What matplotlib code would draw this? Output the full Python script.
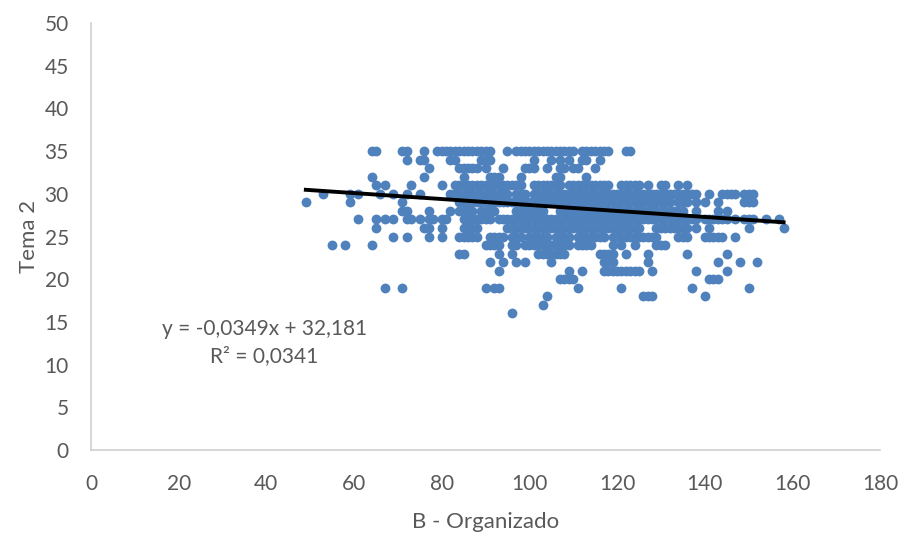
import matplotlib.pyplot as plt
import numpy as np

# Tema 2 score (rows) and the B - Organizado values seen at each score
tema2_rows = {
    35: [64, 65, 71, 72, 76, 79, 80, 81, 82, 83, 84, 85, 86, 87, 88, 89, 90, 91,
         95, 97, 98, 99, 100, 101, 102, 103, 104, 105, 106, 107, 108, 109, 110,
         112, 113, 114, 115, 116, 117, 118, 122, 123],
    34: [72, 75, 76, 82, 83, 89, 90, 91, 101, 105, 107, 109, 112, 113, 116],
    33: [77, 84, 85, 86, 87, 88, 90, 94, 99, 100, 101, 104, 107, 108, 110, 111, 115],
    32: [64, 76, 85, 91, 92, 93, 98, 106, 107, 113],
    31: [65, 67, 73, 80, 83, 84, 85, 86, 87, 88, 89, 90, 91, 92, 93, 94, 95, 96,
         97, 98, 101, 102, 103, 104, 105, 106, 107, 109, 110, 111, 112, 113, 114,
         115, 116, 117, 118, 121, 122, 123, 124, 125, 127, 130, 131, 134, 136],
    30: [53, 59, 61, 66, 69, 72, 75, 82, 83, 84, 85, 86, 87, 88, 89, 90, 91, 92,
         93, 94, 95, 97, 98, 99, 101, 102, 103, 104, 105, 106, 107, 108, 109, 110,
         111, 112, 113, 114, 115, 116, 117, 118, 119, 120, 121, 122, 123, 124, 125,
         126, 127, 128, 129, 130, 131, 132, 133, 134, 135, 136, 137, 138, 141, 144,
         145, 146, 147, 149, 150, 151],
    29: [49, 59, 71, 84, 85, 86, 87, 88, 89, 90, 91, 92, 93, 94, 95, 96, 97, 98,
         99, 100, 101, 102, 103, 104, 105, 106, 107, 108, 109, 110, 111, 112, 113,
         114, 115, 116, 117, 118, 119, 120, 121, 122, 123, 124, 125, 126, 127, 128,
         129, 130, 131, 132, 134, 135, 136, 138, 140, 143, 149, 150, 151],
    28: [71, 72, 77, 82, 84, 85, 86, 87, 89, 90, 91, 92, 97, 98, 99, 100, 101, 102,
         103, 107, 108, 109, 110, 111, 112, 113, 114, 115, 116, 117, 118, 119, 120,
         121, 122, 123, 124, 125, 126, 127, 128, 129, 130, 131, 132, 133, 134, 135,
         138, 143, 145],
    27: [61, 65, 67, 69, 72, 73, 75, 77, 78, 80, 81, 85, 86, 87, 88, 89, 90, 91,
         93, 94, 95, 96, 97, 98, 99, 100, 101, 102, 103, 104, 105, 106, 107, 108,
         109, 110, 111, 112, 113, 114, 115, 116, 117, 118, 119, 120, 121, 122, 123,
         124, 125, 126, 127, 128, 129, 130, 131, 132, 133, 134, 135, 136, 137, 138,
         140, 141, 142, 143, 144, 145, 147, 149, 150, 151, 154, 157],
    26: [65, 76, 77, 80, 85, 86, 87, 88, 95, 96, 97, 98, 99, 100, 101, 102, 103,
         104, 105, 106, 107, 108, 109, 110, 111, 112, 113, 114, 115, 116, 117, 118,
         119, 120, 121, 122, 123, 124, 125, 129, 130, 131, 132, 133, 134, 135, 136,
         138, 141, 150, 158],
    25: [69, 72, 77, 80, 84, 85, 86, 87, 88, 91, 92, 93, 94, 96, 97, 98, 100, 101,
         102, 103, 104, 106, 107, 108, 109, 111, 112, 113, 114, 115, 116, 117, 119,
         120, 121, 122, 123, 124, 125, 126, 127, 128, 129, 134, 135, 136, 140, 141,
         142, 143, 144, 147],
    24: [55, 58, 64, 90, 91, 92, 93, 96, 97, 99, 100, 101, 102, 103, 104, 105, 106,
         107, 108, 109, 111, 112, 113, 114, 119, 121, 124, 129, 130, 131],
    23: [84, 85, 93, 96, 102, 103, 104, 105, 106, 107, 108, 116, 117, 118, 119,
         122, 127, 136, 145],
    22: [91, 94, 97, 99, 105, 117, 118, 119, 127, 143, 148, 152],
    21: [93, 109, 112, 117, 118, 119, 120, 121, 122, 123, 124, 125, 128, 138, 145],
    20: [107, 108, 109, 110, 141, 142, 143],
    19: [67, 71, 90, 92, 93, 111, 121, 137, 150],
    18: [104, 126, 127, 128, 140],
    17: [103],
    16: [96],
}

# linear trend reported on the chart
slope = -0.0349
intercept = 32.181
r2 = 0.0341

organizado = []
tema2 = []
for score, xs in tema2_rows.items():
    organizado += xs
    tema2 += [score] * len(xs)
organizado = np.array(organizado)
tema2 = np.array(tema2)

plt.rcParams['font.family'] = ['Lato', 'DejaVu Sans']
grey = '#595959'

fig = plt.figure(figsize=(9.04, 5.33), dpi=100)
ax = fig.add_axes([0.1007, 0.1557, 0.8728, 0.8011])

ax.scatter(organizado, tema2, s=50, color='#4F81BD', linewidths=0, zorder=2)

x_fit = np.array([organizado.min(), organizado.max()])
ax.plot(x_fit, slope * x_fit + intercept, color='black', linewidth=2.8, zorder=3)

ax.text(39.5, 12.6, 'y = -0,0349x + 32,181\nR² = 0,0341', ha='center', va='center',
        fontsize=15, color=grey, linespacing=1.4)

ax.set_xlim(0, 180)
ax.set_ylim(0, 50)
ax.set_xticks(np.arange(0, 181, 20))
ax.set_yticks(np.arange(0, 51, 5))
ax.tick_params(length=0, labelsize=15, labelcolor=grey)
ax.tick_params(axis='x', pad=17)
ax.tick_params(axis='y', pad=16)

for side in ['top', 'right']:
    ax.spines[side].set_visible(False)
for side in ['left', 'bottom']:
    ax.spines[side].set_color('#D0D0D0')
    ax.spines[side].set_linewidth(1.2)

ax.set_xlabel('B - Organizado', fontsize=16, color=grey, labelpad=13)
ax.set_ylabel('Tema 2', fontsize=16, color=grey, labelpad=4)

fig.savefig('out.png', dpi=100)
